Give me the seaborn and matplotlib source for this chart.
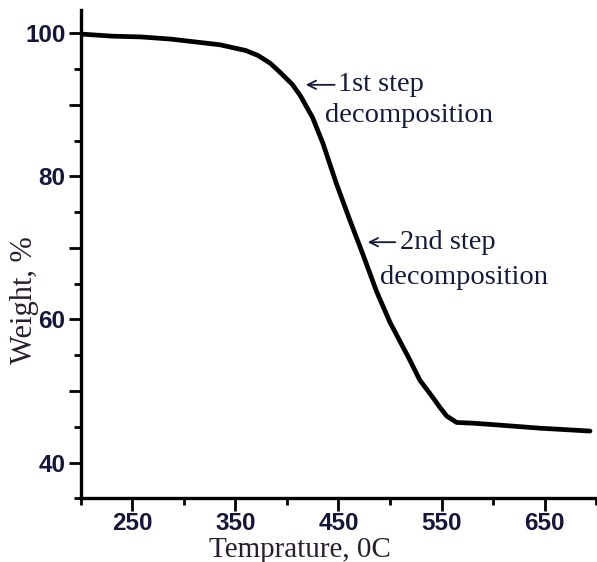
import matplotlib
matplotlib.use("Agg")
import matplotlib.pyplot as plt
from matplotlib.ticker import MultipleLocator
import seaborn as sns
import pandas as pd

# Data
temperature = [200, 231, 258, 287, 335, 360, 372, 384, 393, 405, 413, 425, 435, 448, 461,
               474, 487, 500, 519, 529, 539, 548.5, 555, 564.7, 580.5, 600, 645.5, 694]
weight = [99.9, 99.6, 99.5, 99.2, 98.4, 97.6, 96.9, 95.8, 94.6, 92.9, 91.3, 88.2, 84.6, 79.0, 73.9,
          69.0, 63.9, 59.6, 54.4, 51.5, 49.6, 47.7, 46.5, 45.6, 45.5, 45.3, 44.8, 44.4]
x_ticks = [250, 350, 450, 550, 650]
y_ticks = [40, 50, 60, 70, 80, 90, 100]
y_tick_labels = ["40", "", "60", "", "80", "", "100"]
x_label = "Temprature, 0C"
y_label = "Weight, %"
note1 = ("1st step", "decomposition")
note2 = ("2nd step", "decomposition")

df = pd.DataFrame({"T": temperature, "W": weight})

sns.set_style("ticks")
plt.rcParams["font.family"] = ["Liberation Serif", "DejaVu Serif"]

fig = plt.figure(figsize=(5.97, 5.62), dpi=100)
ax = fig.add_axes([80.7 / 597, 1 - 498.3 / 562, 1 - 80.7 / 597, (498.3 - 10) / 562])

sns.lineplot(data=df, x="T", y="W", color="black", lw=3.4, ax=ax)

ax.set_xlim(200, 700.8)
ax.set_ylim(35, 103.26)
ax.set_xticks(x_ticks)
ax.set_yticks(y_ticks)
ax.set_yticklabels(y_tick_labels)
ax.xaxis.set_minor_locator(MultipleLocator(50))
ax.yaxis.set_minor_locator(MultipleLocator(5))

for s in ["top", "right"]:
    ax.spines[s].set_visible(False)
for s in ["left", "bottom"]:
    ax.spines[s].set_linewidth(2.4)
    ax.spines[s].set_color("black")

tick_color = "#15163a"
ax.tick_params(axis="both", which="major", length=9, width=2, color="black",
               direction="out", pad=2, labelcolor=tick_color)
ax.tick_params(axis="x", which="major", pad=1)
ax.tick_params(axis="both", which="minor", length=5, width=2, color="black", direction="out")
for lab in ax.get_xticklabels() + ax.get_yticklabels():
    lab.set_fontfamily(["Liberation Sans Narrow", "Liberation Sans", "DejaVu Sans"])
    lab.set_fontweight("bold")
    lab.set_fontsize(17.5)

label_color = "#2a1d30"
ax.set_xlabel(x_label, fontsize=21, color=label_color, va="center")
ax.xaxis.set_label_coords(0.425, -0.106)
ax.set_ylabel(y_label, fontsize=22, color=label_color, va="center")
ax.yaxis.set_label_coords(-0.108, 0.406)

txt_color = "#141a3a"
fs = 20.5
ax.annotate("", xy=(415.6, 92.8), xytext=(449, 92.8),
            arrowprops=dict(arrowstyle="->", lw=1.3, color=txt_color, mutation_scale=15))
ax.text(449.6, 92.8, note1[0], fontsize=fs, color=txt_color, va="center", ha="left")
ax.text(437, 88.5, note1[1], fontsize=fs, color=txt_color, va="center", ha="left")

ax.annotate("", xy=(475.7, 70.8), xytext=(508, 70.8),
            arrowprops=dict(arrowstyle="->", lw=1.3, color=txt_color, mutation_scale=15))
ax.text(509.7, 70.8, note2[0], fontsize=fs, color=txt_color, va="center", ha="left")
ax.text(490.3, 65.9, note2[1], fontsize=fs, color=txt_color, va="center", ha="left")

fig.savefig("out.png", dpi=100)
